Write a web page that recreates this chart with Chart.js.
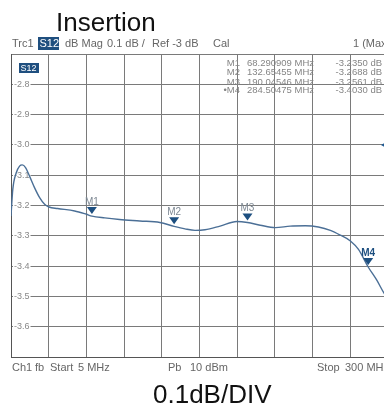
<!DOCTYPE html>
<html>
<head>
<meta charset="utf-8">
<script src="https://cdn.jsdelivr.net/npm/chart.js@4.4.1/dist/chart.umd.min.js"></script>
<style>
    html, body { margin: 0; padding: 0; background: #fff; overflow: hidden; }
    #wrap { position: relative; width: 384px; height: 405px; overflow: hidden; }
    #wrap canvas { position: absolute; left: 0; top: 0; }
</style>
</head>
<body>
<div id="wrap"><canvas id="s12Chart" width="400" height="405"></canvas></div>
<script>
// S12 trace: frequency (MHz) and level (dB)
const freqMHz = [
    5, 6.4, 9.1, 11.7, 13.8, 16.4, 19.5, 23.4, 27.4, 31.3, 34.7, 41.5, 54.8,
    64, 68.29, 78.4, 89.9, 105.8, 121.5, 132.65, 141.1, 149, 156.8, 168.6,
    181.7, 190.05, 200, 211.8, 223.5, 235.3, 245.5, 254.9, 262.8, 270.6,
    276.9, 284.5, 291, 296.7, 300,
]
const lossDb = [
    -3.235, -3.147, -3.092, -3.07, -3.066, -3.075, -3.103, -3.141, -3.174,
    -3.196, -3.205, -3.21, -3.218, -3.229, -3.235, -3.241, -3.246, -3.251,
    -3.256, -3.2688, -3.277, -3.282, -3.28, -3.268, -3.253, -3.2561, -3.265,
    -3.273, -3.268, -3.267, -3.271, -3.282, -3.298, -3.317, -3.345, -3.403,
    -3.445, -3.488, -3.51,
]

// markers
const markerNames = ["M1", "M2", "M3", "M4"]
const markerFreq = [68.290909, 132.65455, 190.04546, 284.50475]
const markerDb = [-3.235, -3.2688, -3.2561, -3.403]

// axes
const xMin = 5
const xMax = 300
const yMin = -3.7
const yMax = -2.7
const refLevel = -3.0

const FONT = "'Liberation Sans', Arial, sans-serif"
const MARK_BLUE = "#1d4f80"
const GRID = "#7a7a7a"

// everything around the grid: titles, header bar, marker table, footer
const overlay = {
    id: "overlay",
    afterDatasetsDraw(chart) {
        const ctx = chart.ctx
        const meta = chart.getDatasetMeta(1)
        ctx.save()
        meta.data.forEach((pt, i) => {
            const active = i === markerNames.length - 1
            ctx.fillStyle = MARK_BLUE
            ctx.beginPath()
            ctx.moveTo(pt.x, pt.y - 2)
            ctx.lineTo(pt.x - 5, pt.y - 9)
            ctx.lineTo(pt.x + 5, pt.y - 9)
            ctx.closePath()
            ctx.fill()
            ctx.font = (active ? "bold " : "") + "10px " + FONT
            ctx.fillStyle = active ? MARK_BLUE : "#7d8893"
            ctx.textAlign = "center"
            ctx.textBaseline = "alphabetic"
            ctx.fillText(markerNames[i], pt.x, pt.y - 11)
        })
        ctx.restore()
    },
    afterDraw(chart) {
        const ctx = chart.ctx
        const area = chart.chartArea
        const y = chart.scales.y
        ctx.save()

        // big titles
        ctx.fillStyle = "#111"
        ctx.font = "26px " + FONT
        ctx.textBaseline = "alphabetic"
        ctx.textAlign = "left"
        ctx.fillText("Insertion", 56, 30.5)
        ctx.fillText("0.1dB/DIV", 153, 402.5)

        // header bar
        ctx.font = "11px " + FONT
        ctx.textBaseline = "middle"
        ctx.fillStyle = "#666"
        ctx.fillText("Trc1", 12, 43.5)
        ctx.fillText("dB Mag", 65, 43.5)
        ctx.fillText("0.1 dB /", 107, 43.5)
        ctx.fillText("Ref -3 dB", 152, 43.5)
        ctx.fillText("Cal", 213, 43.5)
        ctx.fillText("1 (Max)", 353, 43.5)
        ctx.fillStyle = "#1f4f7f"
        ctx.fillRect(38, 37, 21, 13)
        ctx.fillStyle = "#fff"
        ctx.fillText("S12", 39.5, 43.5)

        // trace badge inside the grid
        ctx.fillStyle = "#1f4f7f"
        ctx.fillRect(19, 63, 20, 10)
        ctx.fillStyle = "#fff"
        ctx.font = "9px " + FONT
        ctx.fillText("S12", 20.5, 68.5)

        // marker table
        ctx.font = "9.5px " + FONT
        ctx.fillStyle = "#858585"
        const rowY = [63.5, 72.5, 82, 90.5]
        markerNames.forEach((name, i) => {
            const active = i === markerNames.length - 1
            ctx.textAlign = "right"
            ctx.fillText((active ? "\u2022" : "") + name, 240, rowY[i])
            ctx.fillText(markerFreq[i].toPrecision(8) + " MHz", 314, rowY[i])
            ctx.fillText(markerDb[i].toFixed(4) + " dB", 382, rowY[i])
        })

        // reference level arrow on the right edge
        const ry = y.getPixelForValue(refLevel)
        ctx.fillStyle = "#1f5a94"
        ctx.beginPath()
        ctx.moveTo(area.right - 7, ry)
        ctx.lineTo(area.right, ry - 4)
        ctx.lineTo(area.right, ry + 4)
        ctx.closePath()
        ctx.fill()

        // footer
        ctx.font = "11px " + FONT
        ctx.fillStyle = "#666"
        ctx.textAlign = "left"
        ctx.textBaseline = "middle"
        ctx.fillText("Ch1", 12, 368)
        ctx.fillText("fb", 35, 368)
        ctx.fillText("Start", 50, 368)
        ctx.fillText("5 MHz", 78, 368)
        ctx.fillText("Pb", 168, 368)
        ctx.fillText("10 dBm", 190, 368)
        ctx.fillText("Stop", 317, 368)
        ctx.fillText("300 MHz", 345, 368)
        ctx.restore()
    },
}

const isEdge = (v) => v <= yMin + 0.001 || v >= yMax - 0.001

const s12Ctx = document.getElementById("s12Chart")
new Chart(s12Ctx, {
    type: "line",
    data: {
        datasets: [
            {
                label: "S12",
                data: freqMHz.map((f, i) => ({ x: f, y: lossDb[i] })),
                borderColor: "#4b6f96",
                borderWidth: 1.4,
                pointRadius: 0,
                cubicInterpolationMode: "monotone",
                fill: false,
            },
            {
                label: "Markers",
                data: markerFreq.map((f, i) => ({ x: f, y: markerDb[i] })),
                showLine: false,
                pointRadius: 0,
                pointHoverRadius: 0,
            },
        ],
    },
    options: {
        responsive: false,
        animation: false,
        devicePixelRatio: 1,
        layout: { padding: { left: 11, right: 12, top: 54, bottom: 48 } },
        plugins: {
            legend: { display: false },
            tooltip: { enabled: false },
        },
        scales: {
            x: {
                type: "linear",
                min: xMin,
                max: xMax,
                ticks: { stepSize: 29.5, display: false },
                grid: { color: GRID, lineWidth: 1, drawTicks: false },
                border: { color: "#555", width: 1 },
                afterFit: (s) => {
                    s.height = 0
                },
            },
            y: {
                min: yMin,
                max: yMax,
                ticks: {
                    stepSize: 0.1,
                    mirror: true,
                    padding: 3,
                    color: "#888",
                    font: { family: FONT, size: 9 },
                    callback: (v) => (isEdge(v) ? "" : v.toFixed(1)),
                    showLabelBackdrop: true,
                    backdropColor: (c) =>
                        c.tick && isEdge(c.tick.value) ? "rgba(0,0,0,0)" : "#fff",
                    backdropPadding: { left: 1, right: 1, top: 0, bottom: 0 },
                },
                grid: { color: GRID, lineWidth: 1, drawTicks: false },
                border: { color: "#555", width: 1 },
                afterFit: (s) => {
                    s.width = 0
                },
            },
        },
    },
    plugins: [overlay],
})
</script>
</body>
</html>
